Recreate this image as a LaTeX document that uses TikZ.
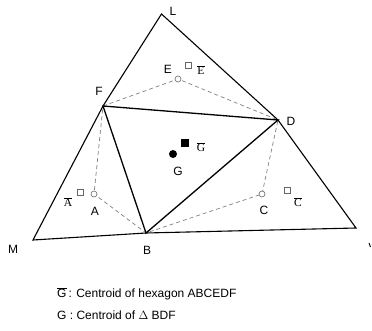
\documentclass[tikz,border=0pt]{standalone}
\usepackage{fontspec}
\setmainfont{Liberation Sans}
\newfontfamily\serifb{Liberation Serif}
\begin{document}
\begin{tikzpicture}[x=1pt,y=-1pt,
  outer/.style={line width=1.1pt},
  inner/.style={line width=1.3pt},
  dsh/.style={gray,line width=0.7pt,dash pattern=on 4pt off 3pt},
  lab/.style={font=\fontsize{12}{14}\selectfont,inner sep=0pt},
  blab/.style={font=\serifb\fontsize{11.5}{14}\selectfont,inner sep=0pt},
  ocirc/.style={circle,draw=gray!80!black,fill=white,minimum size=6pt,inner sep=0pt,line width=0.6pt},
  osq/.style={rectangle,draw=gray!80!black,fill=white,minimum size=6pt,inner sep=0pt,line width=0.6pt}]
\useasboundingbox (0,0) rectangle (372,331);
\coordinate (L) at (161.5,14);
\coordinate (M) at (33,240);
\coordinate (N) at (356,228);
\coordinate (F) at (103,106);
\coordinate (D) at (278,120);
\coordinate (B) at (146,233);
\draw[outer,line join=miter] (L) -- (F) -- (M) -- (B) -- (N) -- (D) -- cycle;
\draw[dsh] (F) -- (178,79) -- (D) -- (262,194) -- (B) -- (94,194) -- (F);
\draw[inner] (F) -- (D) -- (B) -- cycle;
\node[ocirc] (E) at (178,79) {};
\node[ocirc] (A) at (94,194) {};
\node[ocirc] (C) at (262,194) {};
\node[osq] (Eb) at (188,65) {};
\node[osq] (Ab) at (80,192) {};
\node[osq] (Cb) at (287,190) {};
\node[circle,fill=black,minimum size=8pt,inner sep=0pt] (G) at (173,154) {};
\node[rectangle,fill=black,minimum size=7.5pt,inner sep=0pt] (Gb) at (185,143) {};
\node[lab] (lL) at (173,11) {L};
\node[lab] (lF) at (99,91) {F};
\node[lab] (lD) at (291,121) {D};
\node[lab] (lE) at (168,69) {E};
\node[lab] (lA) at (95,211) {A};
\node[lab] (lC) at (264,210) {C};
\node[lab] (lG) at (178,171) {G};
\node[lab] (lM) at (13,249) {M};
\node[lab] (lB) at (147,250) {B};
\node[blab] (lEb) at (201,70) {$\overline{\mbox{E}}$};
\node[blab] (lGb) at (201,147) {$\overline{\mbox{G}}$};
\node[blab] (lAb) at (68,202) {$\overline{\mbox{A}}$};
\node[blab] (lCb) at (298,202) {$\overline{\mbox{C}}$};
\coordinate (t1) at (369,243);
\coordinate (t2) at (370.5,247);
\draw[line width=0.9pt] (t1) -- (t2);
\node[anchor=west,inner sep=0pt,font=\fontsize{12}{14}\selectfont] (leg1) at (57,294) {$\overline{\mbox{G}}$\,: Centroid of hexagon ABCEDF};
\node[anchor=west,inner sep=0pt,font=\fontsize{12}{14}\selectfont] (leg2) at (57,315) {G : Centroid of $\Delta$ BDF};
\end{tikzpicture}
\end{document}
